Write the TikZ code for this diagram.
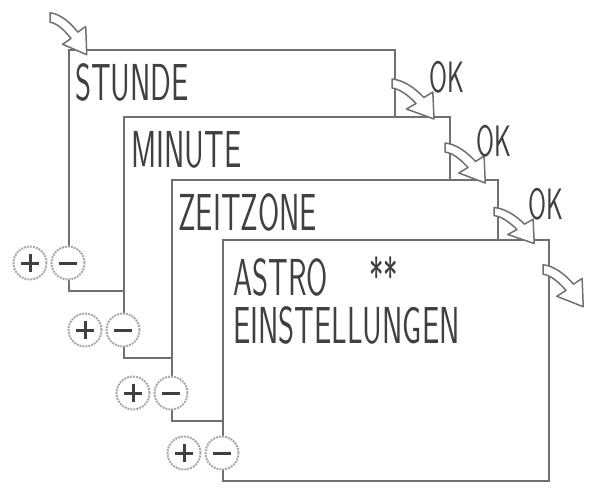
\documentclass[tikz,border=0pt]{standalone}
\usepackage{graphicx}
\usetikzlibrary{positioning}

\definecolor{framegray}{HTML}{707070}
\definecolor{lcdgray}{HTML}{404040}
\definecolor{ringgray}{HTML}{A8A8A8}

% narrow sans text, looks a bit like the segment font of the display
\newcommand{\lcd}[2][52]{\scalebox{0.59}[1]{\fontsize{#1}{#1}\selectfont\sffamily #2}}

\begin{document}
\begin{tikzpicture}[x=1pt, y=-1pt,
     card/.style = {rectangle, draw=framegray, fill=white, line width=2.6pt,
                    minimum width=326pt, minimum height=241pt,
                    anchor=north west, outer sep=0pt, inner sep=0pt},
  lcdtext/.style = {text=lcdgray, anchor=base west, inner sep=0pt},
   oktext/.style = {text=lcdgray, inner sep=0pt},
 signline/.style = {draw=lcdgray, line width=3pt, solid},
   button/.style = {circle, draw=ringgray, densely dotted, line width=2pt,
                    fill=white, minimum width=33pt, minimum height=33pt,
                    inner sep=0pt, outer sep=0pt},
 minusbtn/.style = {button, path picture={%
                    \draw[signline] ([xshift=-9pt]path picture bounding box.center)
                                 -- ([xshift=9pt]path picture bounding box.center);}},
  plusbtn/.style = {button, path picture={%
                    \draw[signline] ([xshift=-9pt]path picture bounding box.center)
                                 -- ([xshift=9pt]path picture bounding box.center);
                    \draw[signline] ([yshift=-9pt]path picture bounding box.center)
                                 -- ([yshift=9pt]path picture bounding box.center);}},
     turn/.pic = {\draw[framegray, fill=white, line width=1.5pt, line join=round]
                    (0,-5) .. controls (10,-4) and (20,5) .. (26.5,13.5)
                    -- (34,8) -- (35,35) -- (12,25) -- (20,19.5)
                    .. controls (14,12) and (7,5) .. (0,4) -- cycle;},
                        ]
\useasboundingbox (0,0) rectangle (596,493);

% display pages, back to front
\node[card] (c1) at (69,50) {};
\node[lcdtext] (t1) at ([shift={(6,50)}]c1.north west) {\lcd{STUNDE}};
\node[minusbtn] (m1) at ([shift={(-1,-28)}]c1.south west) {};
\node[plusbtn, left=5pt of m1] (p1) {};

\node[card] (c2) at (124,117) {};
\node[lcdtext] (t2) at ([shift={(7,50)}]c2.north west) {\lcd{MINUTE}};
\node[minusbtn] (m2) at ([shift={(-1,-28)}]c2.south west) {};
\node[plusbtn, left=5pt of m2] (p2) {};

\node[card] (c3) at (172,180) {};
\node[lcdtext] (t3) at ([shift={(6,50)}]c3.north west) {\lcd{ZEITZONE}};
\node[minusbtn] (m3) at ([shift={(-1,-28)}]c3.south west) {};
\node[plusbtn, left=5pt of m3] (p3) {};

\node[card] (c4) at (223,240) {};
\node[lcdtext] (t4) at ([shift={(10,55)}]c4.north west) {\lcd{ASTRO\hspace{1.35em}**}};
\node[lcdtext] (t5) at ([shift={(10,103)}]c4.north west) {\lcd{EINSTELLUNGEN}};
\node[minusbtn] (m4) at ([shift={(-1,-28)}]c4.south west) {};
\node[plusbtn, left=5pt of m4] (p4) {};

% turn arrows
\pic[scale=1.05] at ([shift={(-19,-32)}]c1.north west) {turn};
\pic[xscale=1.2] at ([shift={(-3,34)}]c1.north east) {turn};
\pic[xscale=1.15] at ([shift={(-5,31)}]c2.north east) {turn};
\pic[xscale=1.15, yscale=0.9] at ([shift={(-4,32)}]c3.north east) {turn};
\pic[xscale=1.15, yscale=1.05] at ([shift={(-6,30)}]c4.north east) {turn};

\node[oktext] (ok1) at ([shift={(52,27)}]c1.north east) {\lcd[44]{OK}};
\node[oktext] (ok2) at ([shift={(44,24)}]c2.north east) {\lcd[44]{OK}};
\node[oktext] (ok3) at ([shift={(48,24)}]c3.north east) {\lcd[44]{OK}};
\end{tikzpicture}
\end{document}
